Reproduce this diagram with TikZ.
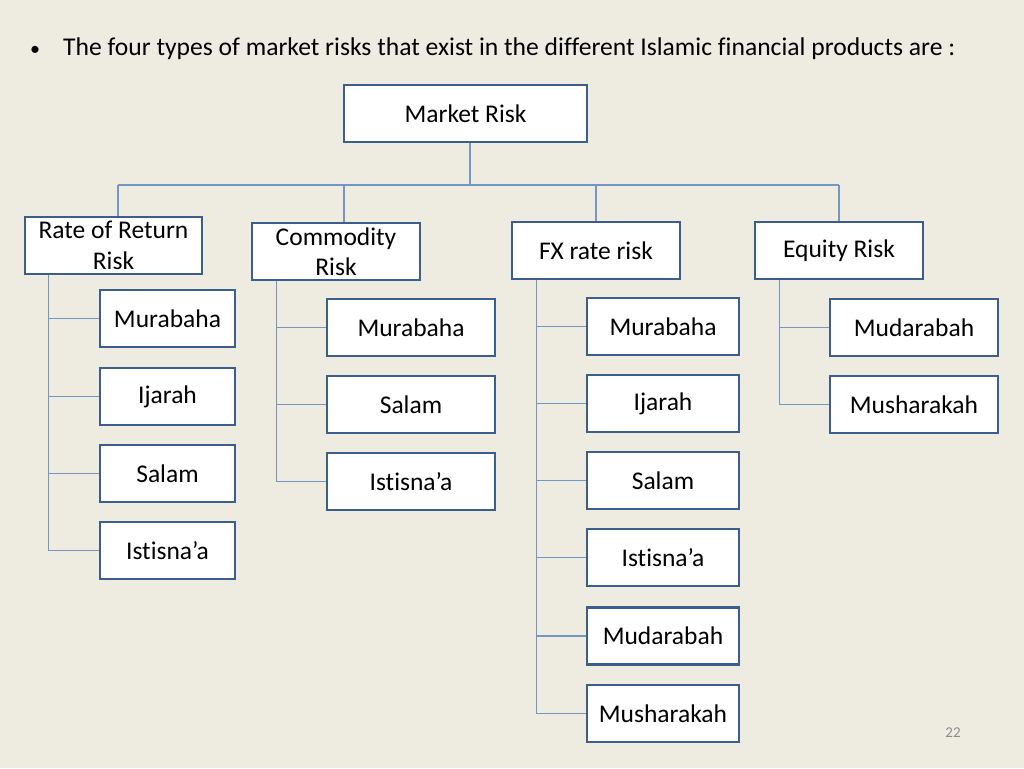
\documentclass[tikz,border=0pt]{standalone}
\usepackage{fontspec}
\setmainfont{Carlito}[Ligatures={NoCommon,NoContextual}]
\usetikzlibrary{positioning}

\definecolor{paper}{HTML}{EEECE1}
\definecolor{boxline}{HTML}{3B5E8A}
\definecolor{linkline}{HTML}{7496C2}
\definecolor{pagegray}{HTML}{8C8C8C}

\tikzset{%
  % Specifications for style of nodes:
         riskbox/.style = {rectangle, draw = boxline, line width=2.8pt, fill=white, minimum height=57pt, inner sep=2pt, align=center, font=\fontsize{25.5}{30.5}\selectfont},
         link/.style = {draw = linkline, line width=1.3pt},
}

\begin{document}
\begin{tikzpicture}[x=1pt, y=-1pt]
    \useasboundingbox[fill=paper] (0,0) rectangle (1024,768);

    % Draw heading
    \node (dot)   [anchor=base, font=\fontsize{20}{24}\selectfont] at (35,56) {•};
    \node (head)  [anchor=base west, inner sep=0pt, font=\fontsize{25.6}{30}\selectfont] at (63,56) {The four types of market risks that exist in the different Islamic financial products are :};

    % Draw nodes
    \node (market) [riskbox, minimum width=243pt] at (465.5,113.5) {Market Risk};

    \node (rr)  [riskbox, minimum width=177pt] at (113.5,245.5) {Rate of Return\\Risk};
    \node (cm)  [riskbox, minimum width=168pt] at (336,251.5)   {Commodity\\Risk};
    \node (fx)  [riskbox, minimum width=168pt] at (596,250.5)   {FX rate risk};
    \node (eq)  [riskbox, minimum width=168pt] at (839,250.5)   {Equity Risk};

    \node (rr1) [riskbox, minimum width=135pt] at (167.5,318.5) {Murabaha};
    \node (rr2) [riskbox, minimum width=135pt] at (167.5,396.5) {Ijarah};
    \node (rr3) [riskbox, minimum width=135pt] at (167.5,473.5) {Salam};
    \node (rr4) [riskbox, minimum width=135pt] at (167.5,550.5) {Istisna’a};

    \node (cm1) [riskbox, minimum width=168pt] at (411,327.5) {Murabaha};
    \node (cm2) [riskbox, minimum width=168pt] at (411,404.5) {Salam};
    \node (cm3) [riskbox, minimum width=168pt] at (411,481.5) {Istisna’a};

    \node (fx1) [riskbox, minimum width=152pt] at (663,326.5) {Murabaha};
    \node (fx2) [riskbox, minimum width=152pt] at (663,403.5) {Ijarah};
    \node (fx3) [riskbox, minimum width=152pt] at (663,480.5) {Salam};
    \node (fx4) [riskbox, minimum width=152pt] at (663,557.5) {Istisna’a};
    \node (fx5) [riskbox, minimum width=152pt] at (663,636)   {Mudarabah};
    \node (fx6) [riskbox, minimum width=152pt] at (663,713.5) {Musharakah};

    \node (eq1) [riskbox, minimum width=168pt] at (914,327.5) {Mudarabah};
    \node (eq2) [riskbox, minimum width=168pt] at (914,404.5) {Musharakah};

    \node (page) [text=pagegray, font=\fontsize{15}{18}\selectfont] at (953,733) {22};

    % Draw lines
    \coordinate (bus) at (0,185);
    \draw[link] ([xshift=4.5pt]market.south) -- ([xshift=4.5pt]market.south |- bus);
    \draw[link] ([xshift=4.5pt]rr.north |- bus) -- (eq.north |- bus);
    \draw[link] ([xshift=4.5pt]rr.north |- bus) -- ([xshift=4.5pt]rr.north);
    \draw[link] ([xshift=8pt]cm.north |- bus) -- ([xshift=8pt]cm.north);
    \foreach \n in {fx,eq}
        \draw[link] (\n.north |- bus) -- (\n.north);

    \foreach \c in {rr1,rr2,rr3,rr4}
        \draw[link] ([xshift=25pt]rr.south west) |- (\c.west);
    \foreach \c in {cm1,cm2,cm3}
        \draw[link] ([xshift=26pt]cm.south west) |- (\c.west);
    \foreach \c in {fx1,fx2,fx3,fx4,fx5,fx6}
        \draw[link] ([xshift=26pt]fx.south west) |- (\c.west);
    \foreach \c in {eq1,eq2}
        \draw[link] ([xshift=26pt]eq.south west) |- (\c.west);

\end{tikzpicture}
\end{document}
